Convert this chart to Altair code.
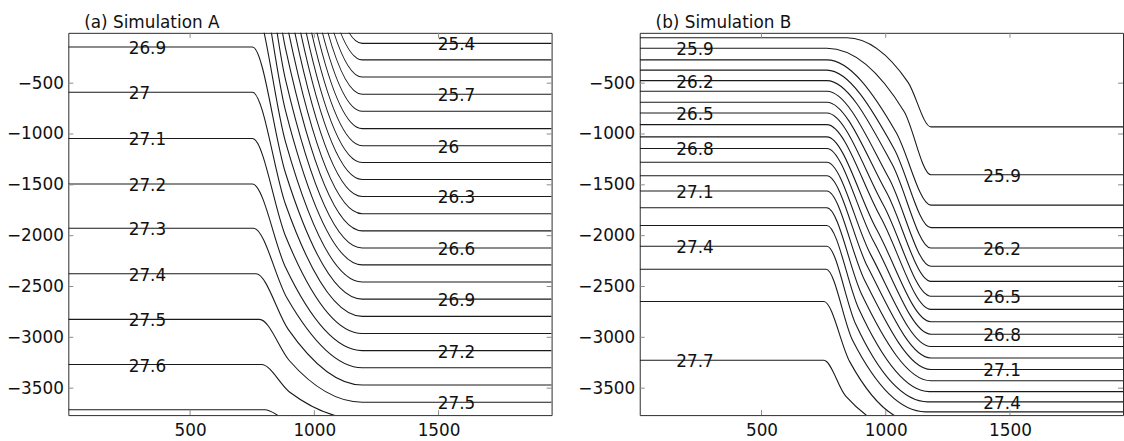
import altair as alt
import pandas as pd

# ---------------- Simulation A ----------------
levels_a = [25.4, 25.5, 25.6, 25.7, 25.8, 25.9, 26.0, 26.1, 26.2, 26.3, 26.4, 26.5,
            26.6, 26.7, 26.8, 26.9, 27.0, 27.1, 27.2, 27.3, 27.4, 27.5, 27.6, 27.7]
# isopycnal depth west of the front (m); lighter classes outcrop above the surface
left_a = [6531, 6086, 5641, 5196, 4751, 4306, 3861, 3416, 2971, 2526, 2081, 1636,
          1191, 746, 301, -144, -589, -1044, -1492, -1927, -2375, -2823, -3268, -3713]
# isopycnal depth east of the front (m)
right_a = [-109, -271, -440, -609, -777, -947, -1115, -1281, -1447, -1615, -1784, -1953,
           -2121, -2287, -2456, -2624, -2794, -2963, -3131, -3300, -3469, -3638, -3807, -3976]
# along-section positions (km): start of descent, half-way point, end of descent
bend_start_a = [751, 751, 751, 751, 751, 751, 751, 751, 751, 751, 751, 751,
                751, 751, 751, 751, 751, 751, 751, 755, 765, 779, 787, 800]
half_a = [884, 884, 884, 884, 884, 884, 884, 884, 884, 884, 884, 884,
          884, 884, 884, 884, 884, 884, 884, 890, 895, 900, 900, 905]
bend_end_a = [1193, 1193, 1193, 1193, 1193, 1193, 1193, 1193, 1193, 1193, 1193, 1193,
              1193, 1193, 1193, 1193, 1193, 1193, 1193, 1193, 1193, 1193, 1193, 1193]
labels_left_a = ["26.9", "27", "27.1", "27.2", "27.3", "27.4", "27.5", "27.6"]
labels_right_a = ["25.4", "25.7", "26", "26.3", "26.6", "26.9", "27.2", "27.5"]

# ---------------- Simulation B ----------------
levels_b = [25.8, 25.9, 26.0, 26.1, 26.2, 26.3, 26.4, 26.5, 26.6, 26.7,
            26.8, 26.9, 27.0, 27.1, 27.2, 27.3, 27.4, 27.5, 27.6, 27.7]
left_b = [-54, -156, -271, -372, -475, -580, -687, -794, -908, -1028,
          -1142, -1278, -1411, -1560, -1726, -1900, -2104, -2331, -2648, -3226]
right_b = [-930, -1401, -1700, -1921, -2122, -2301, -2450, -2596, -2725, -2846,
           -2969, -3090, -3203, -3317, -3427, -3534, -3635, -3733, -3830, -3930]
bend_start_b = [843, 763, 763, 763, 763, 763, 763, 763, 763, 763,
                763, 763, 763, 763, 763, 763, 763, 760, 751, 751]
half_b = [1090, 1074, 1042, 1034, 1026, 1014, 1002, 990, 979, 963,
          951, 939, 927, 915, 903, 891, 879, 867, 855, 839]
bend_end_b = [1182, 1182, 1182, 1182, 1182, 1182, 1182, 1182, 1182, 1182,
              1182, 1182, 1182, 1182, 1182, 1175, 1170, 1160, 1120, 1100]
labels_left_b = ["25.9", "26.2", "26.5", "26.8", "27.1", "27.4", "27.7"]
labels_right_b = ["25.9", "26.2", "26.5", "26.8", "27.1", "27.4"]

# where the contour labels start along the section (km)
label_x_a = (253, 1497)
label_x_b = (157, 1393)

x_ticks = [500, 1000, 1500]
y_ticks = [-3500, -3000, -2500, -2000, -1500, -1000, -500]
x_domain = [10, 1955]
y_domain = [-3765, -5]

FONT = "DejaVu Sans"
INK = "#1a1a1a"
W, H = 488, 386


def line_table(levels, left, right, start, half, end):
    rows = []
    for lev, zl, zr, xs, xh, xe in zip(levels, left, right, start, half, end):
        pts = [(x_domain[0], zl), (xs, zl), (xh, (zl + zr) / 2), (xe, zr), (x_domain[1], zr)]
        for x, z in pts:
            rows.append({"level": lev, "x": x, "z": z})
    return pd.DataFrame(rows)


def label_table(levels, depths, texts, xpos):
    lookup = {f"{lev:g}": d for lev, d in zip(levels, depths)}
    return pd.DataFrame([{"x": xpos, "z": lookup[t], "text": t} for t in texts])


def panel(title, lines, lab_left, lab_right):
    xs = alt.Scale(domain=x_domain, nice=False, zero=False)
    ys = alt.Scale(domain=y_domain, nice=False, zero=False)
    base_axis = dict(grid=False, ticks=False, domain=False, labelFont=FONT, format="d",
                     labelFontSize=17, labelColor="#111", title=None)
    xa = alt.Axis(values=x_ticks, labelPadding=8, **base_axis)
    ya = alt.Axis(values=y_ticks, labelPadding=5, **base_axis)

    def X(field):
        return alt.X(field, type="quantitative", scale=xs, axis=xa)

    def Y(field):
        return alt.Y(field, type="quantitative", scale=ys, axis=ya)

    contours = alt.Chart(lines).mark_line(
        interpolate="monotone", clip=True, color=INK, strokeWidth=1.1
    ).encode(x=X("x"), y=Y("z"), detail="level:N")

    labs = alt.Chart(pd.concat([lab_left, lab_right])).mark_text(
        font=FONT, fontSize=17, color="#111", baseline="middle", align="left", dy=2
    ).encode(x=X("x"), y=Y("z"), text="text:N")

    xt = pd.DataFrame({"v": x_ticks})
    yt = pd.DataFrame({"v": y_ticks})
    tick_style = dict(color="#8a8a8a", strokeWidth=1)
    t_bottom = alt.Chart(xt).mark_rule(**tick_style).encode(
        x=X("v"), y=alt.value(H), y2=alt.value(H - 5))
    t_top = alt.Chart(xt).mark_rule(**tick_style).encode(
        x=X("v"), y=alt.value(0), y2=alt.value(5))
    t_left = alt.Chart(yt).mark_rule(**tick_style).encode(
        y=Y("v"), x=alt.value(0), x2=alt.value(5))
    t_right = alt.Chart(yt).mark_rule(**tick_style).encode(
        y=Y("v"), x=alt.value(W), x2=alt.value(W - 5))

    heading = alt.Chart(pd.DataFrame({"t": [title]})).mark_text(
        font=FONT, fontSize=17, color="#111", align="left", baseline="alphabetic"
    ).encode(text="t:N", x=alt.value(16), y=alt.value(-5))

    return alt.layer(contours, labs, t_bottom, t_top, t_left, t_right, heading).properties(
        width=W, height=H)


lines_a = line_table(levels_a, left_a, right_a, bend_start_a, half_a, bend_end_a)
lines_b = line_table(levels_b, left_b, right_b, bend_start_b, half_b, bend_end_b)

pa = panel("(a) Simulation A", lines_a,
           label_table(levels_a, left_a, labels_left_a, label_x_a[0]),
           label_table(levels_a, right_a, labels_right_a, label_x_a[1]))
pb = panel("(b) Simulation B", lines_b,
           label_table(levels_b, left_b, labels_left_b, label_x_b[0]),
           label_table(levels_b, right_b, labels_right_b, label_x_b[1]))

chart = alt.hconcat(pa, pb, spacing=24).properties(
    padding={"left": 5, "top": 11, "right": 0, "bottom": 0},
    background="white",
).configure_view(stroke="#2a2a2a", strokeWidth=1)

chart.save("out.html", embed_options={"renderer": "svg", "actions": False})
